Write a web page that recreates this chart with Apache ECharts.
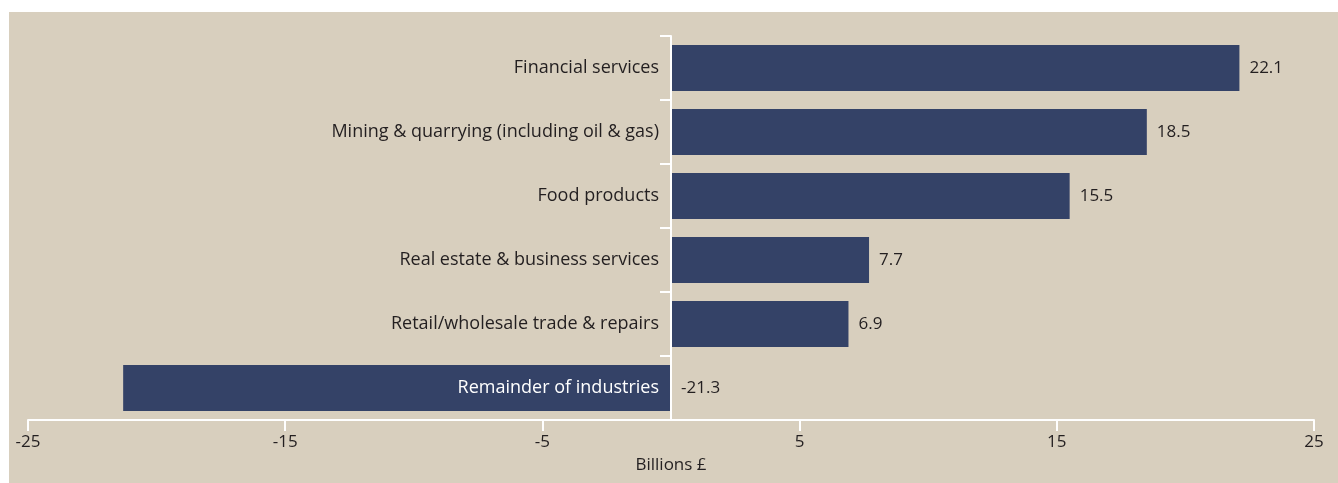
<!DOCTYPE html>
<html>
<head>
<meta charset="utf-8">
<script src="https://cdn.jsdelivr.net/npm/echarts@6/dist/echarts.min.js"></script>
<style>
  html, body { margin: 0; padding: 0; background: #ffffff; }
  #frame { position: absolute; left: 9px; top: 12px; width: 1329px; height: 471px; background: #d8cfbe; }
  #chart { position: absolute; left: 0; top: 0; width: 1338px; height: 483px; }
</style>
</head>
<body>
<div id="frame"></div>
<div id="chart"></div>
<script>
// Industries, top to bottom
const categories = [
  'Financial services',
  'Mining & quarrying (including oil & gas)',
  'Food products',
  'Real estate & business services',
  'Retail/wholesale trade & repairs',
  'Remainder of industries'
];
// Contribution, billions of pounds
const values = [22.1, 18.5, 15.5, 7.7, 6.9, -21.3];
const xTicks = [-25, -15, -5, 5, 15, 25];

const barColor = '#344267';
const textColor = '#231f20';
const fontFamily = '"Open Sans", Lato, sans-serif';

const chartWidth = 1338;
const grid = { left: 28, right: 24, top: 36, bottom: 63 };
const xMin = xTicks[0];
const xMax = xTicks[xTicks.length - 1];
// Shift the category axis from the grid's left edge to the zero line
const zeroOffset = (chartWidth - grid.left - grid.right) * (0 - xMin) / (xMax - xMin);

const chart = echarts.init(document.getElementById('chart'));
chart.setOption({
  backgroundColor: 'transparent',
  animation: false,
  grid: Object.assign({ containLabel: false, outerBoundsMode: 'none' }, grid),
  xAxis: {
    type: 'value',
    min: xMin,
    max: xMax,
    interval: 10,
    name: 'Billions £',
    nameLocation: 'middle',
    nameGap: 37,
    nameTextStyle: { color: textColor, fontSize: 17, fontFamily: fontFamily },
    axisLine: { show: true, lineStyle: { color: '#ffffff', width: 2 } },
    axisTick: { show: true, length: 11, lineStyle: { color: '#ffffff', width: 2 } },
    axisLabel: { color: textColor, fontSize: 17, fontFamily: fontFamily, margin: 14 },
    splitLine: { show: false }
  },
  yAxis: {
    type: 'category',
    inverse: true,
    data: categories,
    z: 10,
    offset: -zeroOffset,
    axisLine: { show: true, onZero: false, lineStyle: { color: '#ffffff', width: 2 } },
    axisTick: { show: true, length: 11, lineStyle: { color: '#ffffff', width: 2 } },
    axisLabel: {
      fontSize: 18,
      fontFamily: fontFamily,
      margin: 12,
      color: function (value, index) {
        return values[index] < 0 ? '#ffffff' : textColor;
      }
    }
  },
  series: [{
    type: 'bar',
    data: values,
    barCategoryGap: '28%',
    itemStyle: { color: barColor },
    label: {
      show: true,
      position: 'right',
      distance: 10,
      color: textColor,
      fontSize: 17,
      fontFamily: fontFamily
    }
  }]
});
</script>
</body>
</html>
